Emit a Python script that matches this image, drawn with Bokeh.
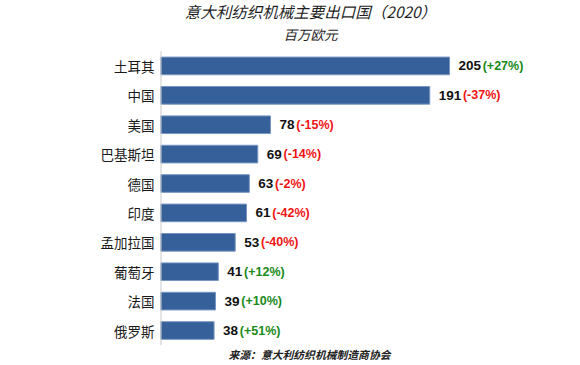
from bokeh.plotting import figure
from bokeh.models import ColumnDataSource, LabelSet, Label, FixedTicker, Range1d
from bokeh.core.properties import value
from bokeh.embed import file_html
from bokeh.resources import INLINE

categories = ["土耳其", "中国", "美国", "巴基斯坦", "德国", "印度", "孟加拉国", "葡萄牙", "法国", "俄罗斯"]
values = [205, 191, 78, 69, 63, 61, 53, 41, 39, 38]
changes = ["+27%", "-37%", "-15%", "-14%", "-2%", "-42%", "-40%", "+12%", "+10%", "+51%"]

title_text = "意大利纺织机械主要出口国（2020）"
subtitle_text = "百万欧元"
source_text = "来源：意大利纺织机械制造商协会"

GREEN = "#1a8a1a"
RED = "#f01515"

n = len(categories)
ypos = [n - 1 - i for i in range(n)]          # first category on top
pct_text = ["(" + c + ")" for c in changes]
pct_color = [GREEN if c.startswith("+") else RED for c in changes]
val_text = [str(v) for v in values]
pct_off = [9 + 7.4 * len(t) + 2 for t in val_text]

src = ColumnDataSource(dict(y=ypos, val=values, vt=val_text, pt=pct_text,
                            pc=pct_color, po=pct_off))

H = 362
p = figure(width=570, height=H, output_backend="svg", toolbar_location=None,
           x_range=(0, 288.0), y_range=Range1d(-1.088, 11.225),
           x_axis_location=None, min_border_left=160, min_border_right=4,
           min_border_top=0, min_border_bottom=0)
p.outline_line_color = None
p.xgrid.visible = False
p.ygrid.visible = False
p.background_fill_color = "white"

p.hbar(y="y", right="val", left=0, height=0.6, source=src,
       fill_color="#36609a", line_color="#7895c2", line_width=1)

# vertical category axis line spanning the category bands
p.segment(x0=[0], x1=[0], y0=[-0.5], y1=[n - 0.5], line_color="#cccccc", line_width=2)

ya = p.yaxis[0]
ya.ticker = FixedTicker(ticks=ypos)
ya.major_label_overrides = {y: c for y, c in zip(ypos, categories)}
ya.axis_line_color = None
ya.major_tick_line_color = None
ya.minor_tick_line_color = None
ya.major_tick_out = 0
ya.major_tick_in = 0
ya.major_label_standoff = 6
ya.major_label_text_font = "Noto Sans CJK SC"
ya.major_label_text_font_size = "13.5px"
ya.major_label_text_color = "#1a1a1a"

p.add_layout(LabelSet(x="val", y="y", text="vt", source=src, x_offset=9,
                      text_align="left", text_baseline="middle",
                      text_font=value("Liberation Sans"), text_font_style="bold",
                      text_font_size="13.5px", text_color="#111111"))
p.add_layout(LabelSet(x="val", y="y", text="pt", source=src, x_offset="po",
                      text_align="left", text_baseline="middle",
                      text_font=value("Liberation Sans"), text_font_style="bold",
                      text_font_size="12.5px", text_color="pc"))

p.add_layout(Label(x=150, y=H - 10, x_units="screen", y_units="screen", text=title_text,
                   text_align="center", text_baseline="middle",
                   text_font="Noto Sans CJK SC", text_font_style="italic",
                   text_font_size="15.5px", text_color="#1e1e1e"))
p.add_layout(Label(x=150, y=H - 33, x_units="screen", y_units="screen", text=subtitle_text,
                   text_align="center", text_baseline="middle",
                   text_font="Noto Sans CJK SC", text_font_style="italic",
                   text_font_size="13.5px", text_color="#1e1e1e"))
p.add_layout(Label(x=149, y=H - 353, x_units="screen", y_units="screen", text=source_text,
                   text_align="center", text_baseline="middle",
                   text_font="Noto Sans CJK SC", text_font_style="bold italic",
                   text_font_size="10.8px", text_color="#222222"))

open("out.html", "w").write(file_html(p, INLINE))
